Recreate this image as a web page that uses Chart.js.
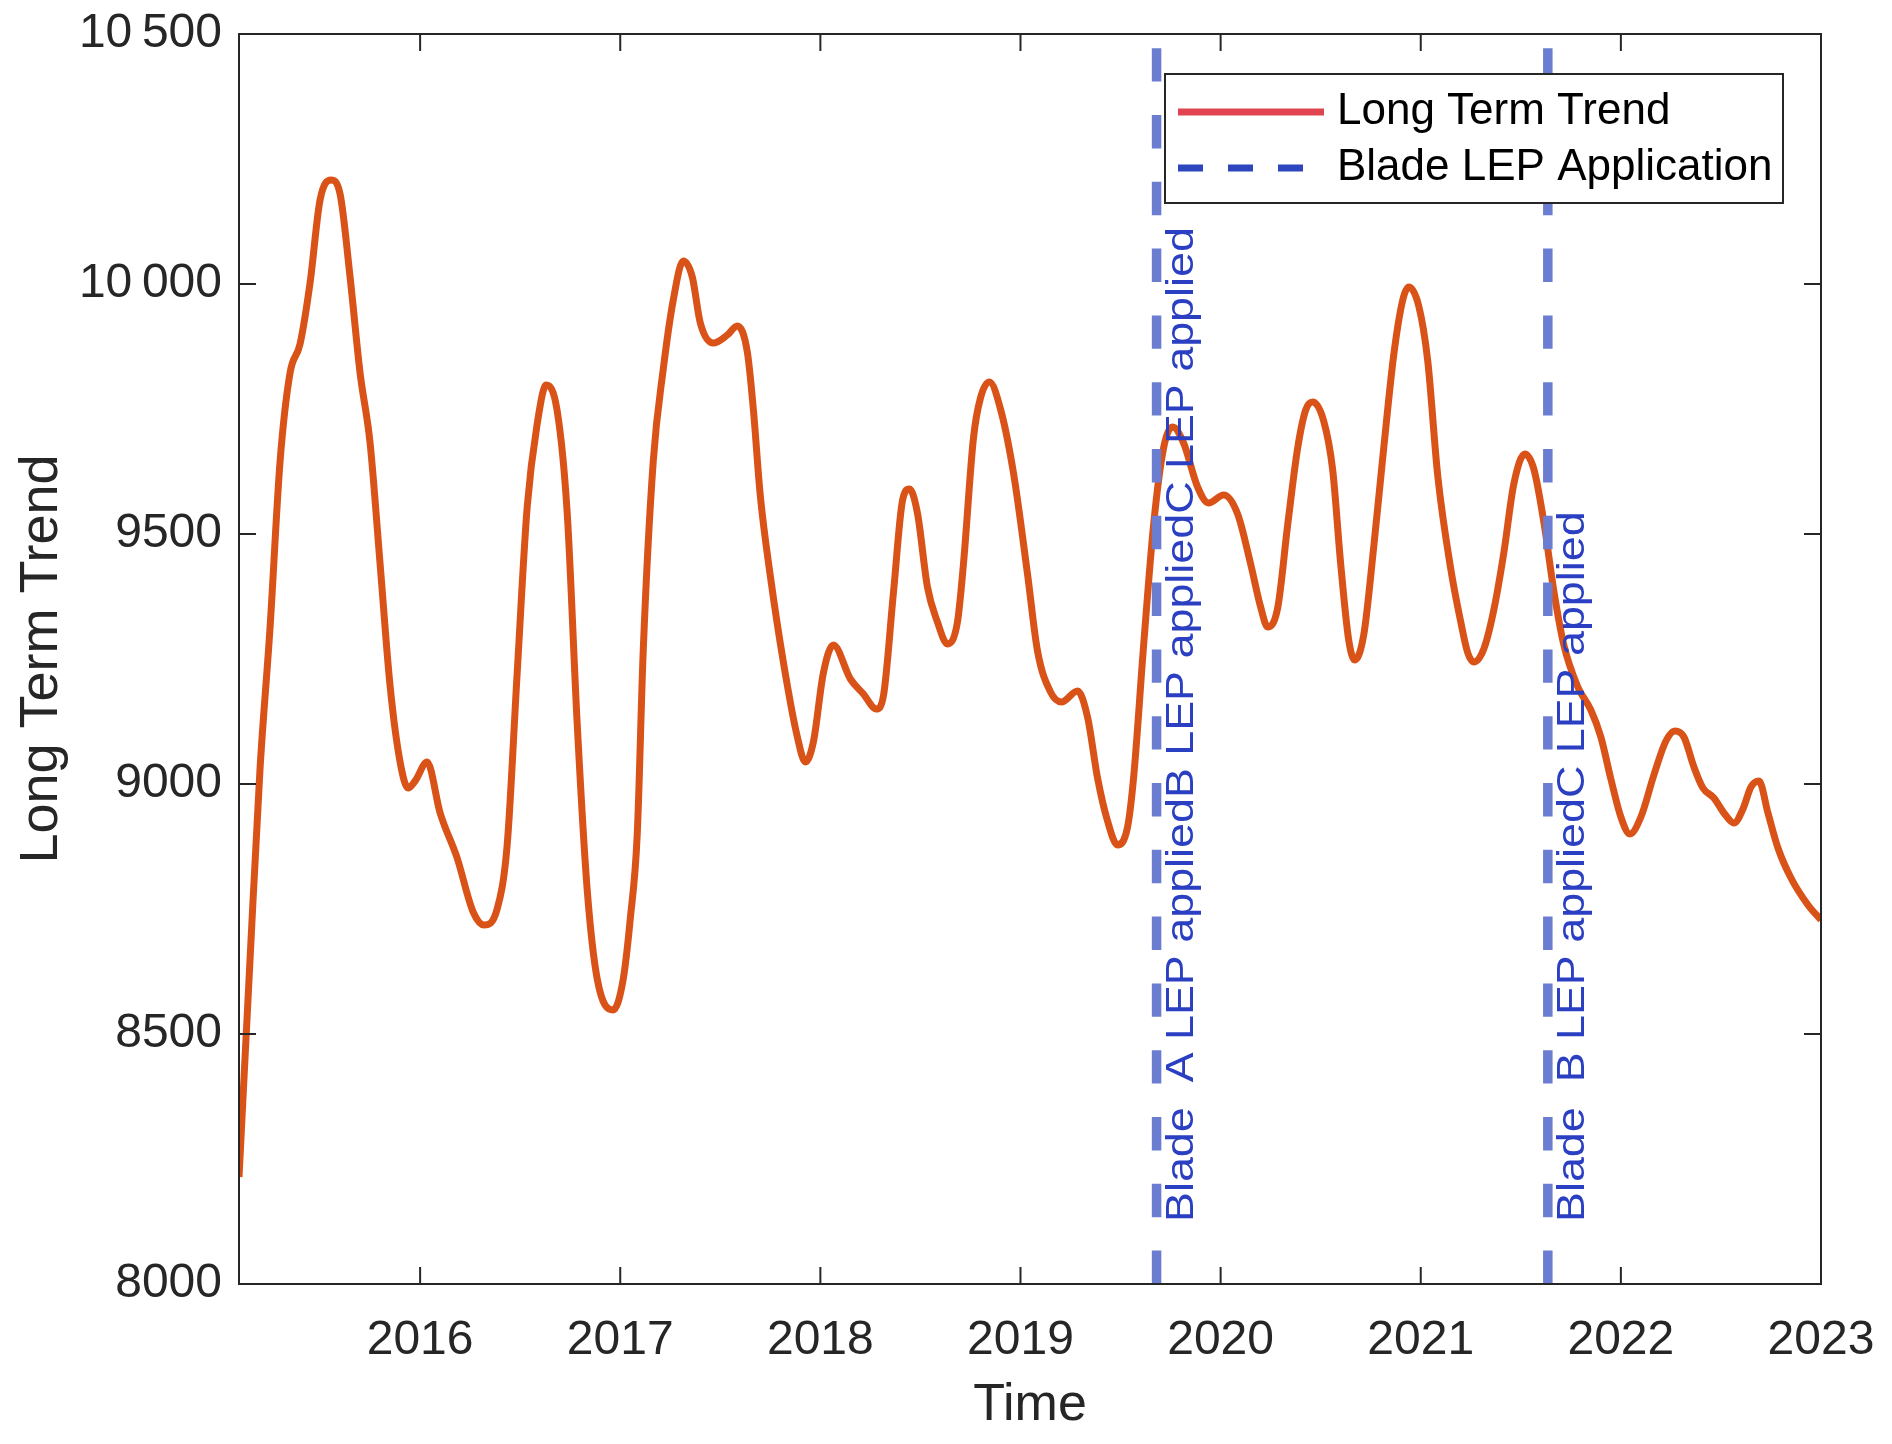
<!DOCTYPE html>
<html>
<head>
<meta charset="utf-8">
<script src="https://cdn.jsdelivr.net/npm/chart.js@4.4.1/dist/chart.umd.min.js"></script>
<style>
  html, body { margin: 0; padding: 0; background: #fff; }
</style>
</head>
<body>
<canvas id="chart" width="1892" height="1444"></canvas>
<script>
// ===== DATA =====
const trendYears = [
  2015.095, 2015.15, 2015.20, 2015.25, 2015.30, 2015.35, 2015.40, 2015.45, 2015.50, 2015.555,
  2015.60, 2015.65, 2015.70, 2015.75, 2015.80, 2015.85, 2015.90, 2015.94, 2015.975, 2016.035,
  2016.10, 2016.185, 2016.265, 2016.32, 2016.385, 2016.435, 2016.485, 2016.535, 2016.585, 2016.63,
  2016.685, 2016.735, 2016.785, 2016.835, 2016.885, 2016.965, 2017.015, 2017.05, 2017.085, 2017.115,
  2017.165, 2017.215, 2017.265, 2017.315, 2017.36, 2017.40, 2017.465, 2017.535, 2017.585, 2017.635,
  2017.665, 2017.70, 2017.75, 2017.815, 2017.885, 2017.925, 2017.965, 2018.015, 2018.065, 2018.15,
  2018.215, 2018.28, 2018.315, 2018.365, 2018.41, 2018.445, 2018.485, 2018.535, 2018.585, 2018.635,
  2018.685, 2018.715, 2018.765, 2018.80, 2018.845, 2018.90, 2018.965, 2019.035, 2019.085, 2019.15,
  2019.205, 2019.285, 2019.335, 2019.385, 2019.435, 2019.485, 2019.535, 2019.565, 2019.615, 2019.665,
  2019.715, 2019.76, 2019.815, 2019.885, 2019.94, 2020.015, 2020.085, 2020.15, 2020.20, 2020.235,
  2020.285, 2020.335, 2020.385, 2020.425, 2020.46, 2020.515, 2020.56, 2020.60, 2020.64, 2020.67,
  2020.715, 2020.765, 2020.815, 2020.865, 2020.91, 2020.94, 2020.99, 2021.035, 2021.085, 2021.15,
  2021.20, 2021.235, 2021.265, 2021.315, 2021.365, 2021.415, 2021.465, 2021.52, 2021.565, 2021.615,
  2021.665, 2021.715, 2021.785, 2021.85, 2021.90, 2021.95, 2022.00, 2022.045, 2022.10, 2022.165,
  2022.225, 2022.27, 2022.315, 2022.365, 2022.41, 2022.465, 2022.515, 2022.565, 2022.61, 2022.65,
  2022.69, 2022.735, 2022.785, 2022.85, 2022.935, 2023.00
];
const trendValues = [
  8214, 8648, 9030, 9312, 9644, 9822, 9880, 10002, 10168, 10208,
  10180, 10014, 9822, 9682, 9440, 9196, 9044, 8992, 9006, 9044,
  8942, 8852, 8744, 8718, 8750, 8878, 9222, 9554, 9720, 9798,
  9746, 9542, 9120, 8788, 8610, 8548, 8610, 8730, 8900, 9268,
  9646, 9830, 9968, 10046, 10014, 9922, 9882, 9898, 9916, 9864,
  9750, 9576, 9416, 9244, 9094, 9044, 9084, 9222, 9278, 9210,
  9180, 9150, 9176, 9382, 9566, 9590, 9542, 9394, 9324, 9280,
  9324, 9440, 9692, 9772, 9804, 9750, 9622, 9420, 9266, 9184,
  9164, 9186, 9134, 9012, 8926, 8878, 8914, 9012, 9276, 9518,
  9672, 9714, 9682, 9594, 9562, 9578, 9540, 9440, 9354, 9314,
  9352, 9518, 9672, 9748, 9764, 9726, 9628, 9440, 9288, 9248,
  9298, 9474, 9672, 9858, 9968, 9994, 9956, 9846, 9616, 9430,
  9324, 9262, 9244, 9270, 9348, 9462, 9600, 9660, 9630, 9524,
  9386, 9278, 9194, 9148, 9094, 9010, 8934, 8900, 8934, 9018,
  9086, 9106, 9094, 9034, 8992, 8972, 8942, 8922, 8950, 8994,
  9006, 8942, 8872, 8812, 8758, 8728
];

const lepYears = [2019.68, 2021.635];
const lepTexts = [
  'Blade  A LEP appliedB LEP appliedC LEP applied',
  'Blade  B LEP appliedC LEP applied'
];
const lepTextStart = 8124;   // value where the rotated labels begin

const yearTicks  = [2016, 2017, 2018, 2019, 2020, 2021, 2022, 2023];
const valueTicks = [8000, 8500, 9000, 9500, 10000, 10500];
const xMin = 2015.095, xMax = 2023;
const yMin = 8000, yMax = 10500;

const legendLabels = ['Long Term Trend', 'Blade LEP Application'];

// ===== STYLE =====
const FONT = '"Liberation Sans", Arial, Helvetica, sans-serif';
const INK = '#262626';
Chart.defaults.font.family = FONT;
Chart.defaults.color = INK;

function fmtValue(v) {
  if (v >= 10000) {
    const s = String(v);
    return s.slice(0, s.length - 3) + '\u2009' + s.slice(-3);
  }
  return String(v);
}

// box round the plot with inward ticks on all four sides
const frameTicks = {
  id: 'frameTicks',
  afterDatasetsDraw(chart) {
    const { ctx, chartArea: a, scales: { x, y } } = chart;
    const len = 17;
    ctx.save();
    ctx.strokeStyle = INK;
    ctx.lineWidth = 2;
    ctx.strokeRect(a.left, a.top, a.right - a.left, a.bottom - a.top);
    ctx.beginPath();
    yearTicks.forEach(v => {
      const px = x.getPixelForValue(v);
      ctx.moveTo(px, a.bottom); ctx.lineTo(px, a.bottom - len);
      ctx.moveTo(px, a.top);    ctx.lineTo(px, a.top + len);
    });
    valueTicks.forEach(v => {
      const py = y.getPixelForValue(v);
      ctx.moveTo(a.left, py);  ctx.lineTo(a.left + len, py);
      ctx.moveTo(a.right, py); ctx.lineTo(a.right - len, py);
    });
    ctx.stroke();
    ctx.restore();
  }
};

// rotated notes next to the LEP lines
const lepNotes = {
  id: 'lepNotes',
  afterDatasetsDraw(chart) {
    const { ctx, scales: { x, y } } = chart;
    ctx.save();
    ctx.fillStyle = '#2b3fc2';
    ctx.font = '39px ' + FONT;
    ctx.textAlign = 'left';
    ctx.textBaseline = 'alphabetic';
    lepYears.forEach((yr, i) => {
      ctx.save();
      ctx.translate(x.getPixelForValue(yr) + 36, y.getPixelForValue(lepTextStart));
      ctx.rotate(-Math.PI / 2);
      ctx.scale(1.15, 1);
      ctx.fillText(lepTexts[i], 0, 0);
      ctx.restore();
    });
    ctx.restore();
  }
};

// boxed legend, top right inside the axes
const boxLegend = {
  id: 'boxLegend',
  afterDraw(chart) {
    const { ctx, chartArea: a } = chart;
    const w = 618, h = 129;
    const left = a.right - 38 - w, top = a.top + 40;
    const rows = [top + 38, top + 94];
    ctx.save();
    ctx.fillStyle = '#fff';
    ctx.fillRect(left, top, w, h);
    ctx.strokeStyle = INK;
    ctx.lineWidth = 2;
    ctx.strokeRect(left, top, w, h);

    ctx.lineWidth = 7;
    ctx.strokeStyle = '#e0444f';
    ctx.beginPath();
    ctx.moveTo(left + 13, rows[0]); ctx.lineTo(left + 159, rows[0]);
    ctx.stroke();
    ctx.strokeStyle = '#2e46bd';
    ctx.setLineDash([25, 25]);
    ctx.beginPath();
    ctx.moveTo(left + 13, rows[1]); ctx.lineTo(left + 139, rows[1]);
    ctx.stroke();
    ctx.setLineDash([]);

    ctx.fillStyle = '#000';
    ctx.font = '44px ' + FONT;
    ctx.textAlign = 'left';
    ctx.textBaseline = 'middle';
    legendLabels.forEach((t, i) => ctx.fillText(t, left + 172, rows[i]));
    ctx.restore();
  }
};

const trendData = trendYears.map((yr, i) => ({ x: yr, y: trendValues[i] }));

const lepSets = lepYears.map(yr => ({
  label: 'Blade LEP Application',
  data: [{ x: yr, y: yMin }, { x: yr, y: yMax }],
  borderColor: '#6b7dd0',
  borderWidth: 9.5,
  borderDash: [33.4, 33.4],
  pointRadius: 0,
  order: 0,
}));

new Chart(document.getElementById('chart'), {
  type: 'line',
  data: {
    datasets: [
      ...lepSets,
      {
        label: 'Long Term Trend',
        data: trendData,
        borderColor: '#d95319',
        borderWidth: 7,
        pointRadius: 0,
        cubicInterpolationMode: 'monotone',
        order: 1,
      }
    ]
  },
  options: {
    responsive: false,
    animation: false,
    layout: { padding: { top: 34, right: 71, bottom: 0, left: 0 } },
    plugins: {
      legend: { display: false },
      tooltip: { enabled: false },
    },
    scales: {
      x: {
        type: 'linear',
        min: xMin,
        max: xMax,
        afterFit: s => {
          s.height = 160;
          s.paddingLeft = 0;
          s.paddingRight = 0;
        },
        afterBuildTicks: s => { s.ticks = yearTicks.map(v => ({ value: v })); },
        grid: { display: false, drawTicks: false },
        border: { display: false },
        ticks: {
          padding: 28,
          autoSkip: false,
          maxRotation: 0,
          color: INK,
          font: { size: 48 },
          callback: v => String(v),
        },
        title: {
          display: true,
          text: 'Time',
          color: INK,
          font: { size: 52 },
          padding: { top: 0, bottom: 7 },
        }
      },
      y: {
        min: yMin,
        max: yMax,
        afterFit: s => {
          s.width = 239;
          s.paddingTop = 0;
          s.paddingBottom = 0;
        },
        afterBuildTicks: s => { s.ticks = valueTicks.map(v => ({ value: v })); },
        grid: { display: false, drawTicks: false },
        border: { display: false },
        ticks: {
          padding: 17,
          color: INK,
          font: { size: 48 },
          callback: v => fmtValue(v),
        },
        title: {
          display: true,
          text: 'Long Term Trend',
          color: INK,
          font: { size: 54 },
          padding: { top: 10, bottom: 0 },
        }
      }
    }
  },
  plugins: [frameTicks, lepNotes, boxLegend]
});
</script>
</body>
</html>
